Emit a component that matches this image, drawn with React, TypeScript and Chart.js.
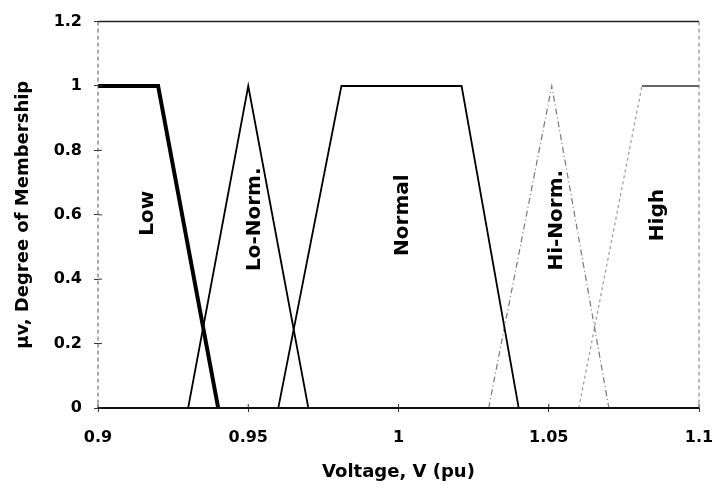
import React, { useEffect, useRef } from "react";
import { Chart, registerables } from "chart.js";

Chart.register(...registerables);

const lowX = [0.9, 0.92, 0.94];
const lowY = [1, 1, 0];
const loNormX = [0.93, 0.95, 0.97];
const loNormY = [0, 1, 0];
const normalX = [0.96, 0.981, 1.021, 1.04];
const normalY = [0, 1, 1, 0];
const hiNormX = [1.03, 1.051, 1.07];
const hiNormY = [0, 1, 0];
const highX = [1.06, 1.081, 1.1];
const highY = [0, 1, 1];

const labelNames = ["Low", "Lo-Norm.", "Normal", "Hi-Norm.", "High"];
const labelX = [0.9167, 0.9523, 1.0013, 1.0527, 1.0863];
const labelY = [0.605, 0.586, 0.599, 0.583, 0.599];

const xTicks = [0.9, 0.95, 1, 1.05, 1.1];
const yTicks = [0, 0.2, 0.4, 0.6, 0.8, 1, 1.2];

const pts = (xs: number[], ys: number[]) => xs.map((x, i) => ({ x, y: ys[i] }));

const FONT = "'DejaVu Sans', Arial, sans-serif";

export default function App() {
  const ref = useRef<HTMLCanvasElement>(null);
  useEffect(() => {
    if (!ref.current) return;
    const framePlugin = {
      id: "frame",
      afterDatasetsDraw(chart: any) {
        const { ctx, chartArea: a, scales } = chart;
        ctx.save();
        ctx.strokeStyle = "#222";
        ctx.lineWidth = 1.5;
        ctx.beginPath();
        ctx.moveTo(a.left, a.top);
        ctx.lineTo(a.right, a.top);
        ctx.stroke();
        ctx.strokeStyle = "#777";
        ctx.lineWidth = 1;
        ctx.setLineDash([4, 3]);
        ctx.beginPath();
        ctx.moveTo(a.right, a.top);
        ctx.lineTo(a.right, a.bottom);
        ctx.stroke();
        ctx.strokeStyle = "#555";
        ctx.beginPath();
        ctx.moveTo(a.left, a.top);
        ctx.lineTo(a.left, a.bottom);
        ctx.stroke();
        ctx.setLineDash([]);
        ctx.strokeStyle = "#111";
        ctx.lineWidth = 2;
        ctx.beginPath();
        ctx.moveTo(a.left, a.bottom);
        ctx.lineTo(a.right, a.bottom);
        ctx.stroke();
        ctx.lineWidth = 1;
        ctx.strokeStyle = "#333";
        yTicks.forEach((v) => {
          const y = scales.y.getPixelForValue(v);
          ctx.beginPath();
          ctx.moveTo(a.left, y);
          ctx.lineTo(a.left + 4, y);
          ctx.stroke();
        });
        xTicks.forEach((v) => {
          const x = scales.x.getPixelForValue(v);
          ctx.beginPath();
          ctx.moveTo(x, a.bottom);
          ctx.lineTo(x, a.bottom - 4);
          ctx.stroke();
        });
        ctx.fillStyle = "#000";
        ctx.font = `bold 20px ${FONT}`;
        ctx.textAlign = "center";
        ctx.textBaseline = "middle";
        labelNames.forEach((name, i) => {
          const x = scales.x.getPixelForValue(labelX[i]);
          const y = scales.y.getPixelForValue(labelY[i]);
          ctx.save();
          ctx.translate(x, y);
          ctx.rotate(-Math.PI / 2);
          ctx.fillText(name, 0, 0);
          ctx.restore();
        });
        ctx.restore();
      },
    };

    const chart = new Chart(ref.current, {
      type: "scatter",
      data: {
        datasets: [
          { label: "Low", data: pts(lowX, lowY), showLine: true, borderColor: "#000", borderWidth: 4, pointRadius: 0, fill: false },
          { label: "Lo-Norm.", data: pts(loNormX, loNormY), showLine: true, borderColor: "#000", borderWidth: 1.8, pointRadius: 0 },
          { label: "Normal", data: pts(normalX, normalY), showLine: true, borderColor: "#000", borderWidth: 1.8, pointRadius: 0 },
          { label: "Hi-Norm.", data: pts(hiNormX, hiNormY), showLine: true, borderColor: "#777", borderWidth: 1.2, borderDash: [6, 3, 1, 3], pointRadius: 0 },
          {
            label: "High",
            data: pts(highX, highY),
            showLine: true,
            borderColor: "#999",
            borderWidth: 1.2,
            borderDash: [2, 3],
            pointRadius: 0,
            segment: {
              borderDash: (c: any) => (c.p0.parsed.y === 1 && c.p1.parsed.y === 1 ? [] : [3, 3]),
              borderColor: (c: any) => (c.p0.parsed.y === 1 && c.p1.parsed.y === 1 ? "#333" : "#999"),
              borderWidth: (c: any) => (c.p0.parsed.y === 1 && c.p1.parsed.y === 1 ? 1.5 : 1.2),
            },
          } as any,
        ],
      },
      options: {
        animation: false,
        responsive: false,
        maintainAspectRatio: false,
        layout: { padding: { top: 19, right: 16, left: 0, bottom: 0 } },
        plugins: { legend: { display: false }, tooltip: { enabled: false } },
        scales: {
          x: {
            type: "linear",
            min: 0.9,
            max: 1.1,
            afterBuildTicks: (s: any) => {
              s.ticks = xTicks.map((v) => ({ value: v }));
            },
            afterFit: (s: any) => {
              s.height = 80;
              s.paddingLeft = 0;
              s.paddingRight = 0;
            },
            grid: { display: true, drawOnChartArea: false, drawTicks: true, tickLength: 4, color: "#333" },
            border: { display: false },
            ticks: {
              color: "#000",
              font: { family: FONT, size: 16, weight: "bold" },
              padding: 16,
              callback: (v: any) => String(Number(v)),
            },
            title: {
              display: true,
              text: "Voltage, V (pu)",
              color: "#000",
              font: { family: FONT, size: 18, weight: "bold" },
              padding: { top: 0, bottom: 5 },
            },
          },
          y: {
            type: "linear",
            min: 0,
            max: 1.2,
            afterBuildTicks: (s: any) => {
              s.ticks = yTicks.map((v) => ({ value: v }));
            },
            afterFit: (s: any) => {
              s.width = 98;
            },
            grid: { display: true, drawOnChartArea: false, drawTicks: true, tickLength: 4, color: "#333" },
            border: { display: false },
            ticks: {
              color: "#000",
              font: { family: FONT, size: 16, weight: "bold" },
              padding: 12,
              callback: (v: any) => String(Math.round(Number(v) * 10) / 10),
            },
            title: {
              display: true,
              text: "μv, Degree of Membership",
              color: "#000",
              font: { family: FONT, size: 18, weight: "bold" },
              padding: { top: 13, bottom: 0 },
            },
          },
        },
      },
      plugins: [framePlugin],
    });
    return () => chart.destroy();
  }, []);
  return (
    <div style={{ position: "fixed", left: 0, top: 0, width: 715, height: 488, background: "#fff" }}>
      <canvas ref={ref} width={715} height={488} style={{ width: 715, height: 488, display: "block" }} />
    </div>
  );
}
